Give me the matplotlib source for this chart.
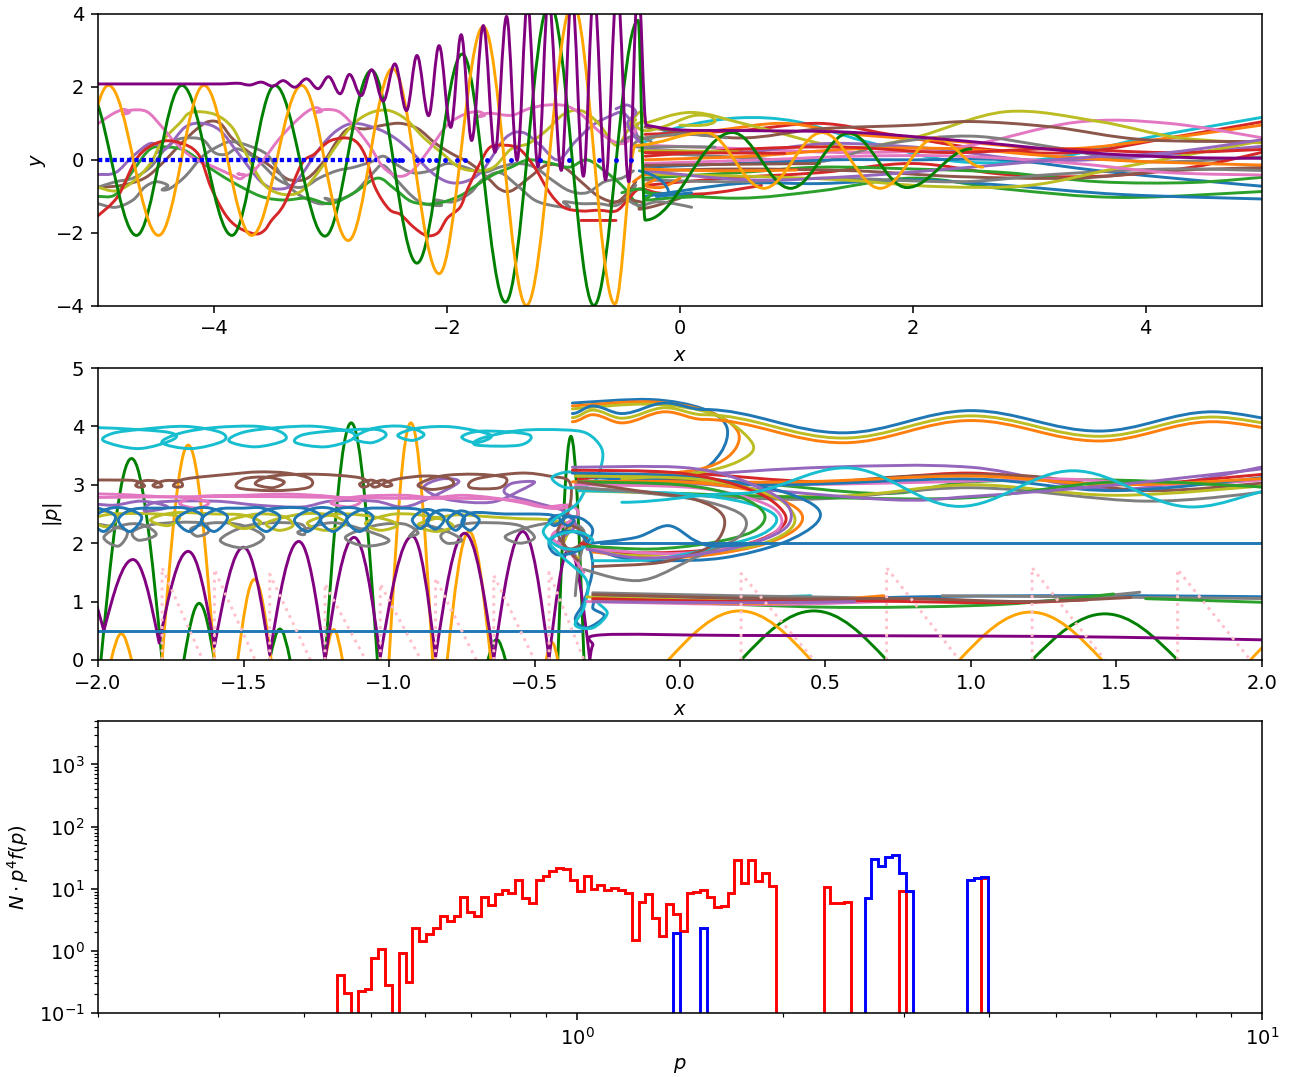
import numpy as np
import matplotlib
matplotlib.use("Agg")
import matplotlib.pyplot as plt
from matplotlib.path import Path
from matplotlib.patches import PathPatch

C0, C1, C2, C3, C4 = '#1f77b4', '#ff7f0e', '#2ca02c', '#d62728', '#9467bd'
C5, C6, C7, C8, C9 = '#8c564b', '#e377c2', '#7f7f7f', '#bcbd22', '#17becf'

# ---------------- top panel: trajectories (x, y) ----------------
purple_top_x = [-5.3, -3.95, -3.8, -3.7, -3.6, -3.5, -3.41, -3.31, -3.21, -3.11, -3.02, -2.92, -2.84,
                -2.74, -2.65, -2.55, -2.45, -2.35, -2.26, -2.16, -2.07, -1.97, -1.88, -1.79, -1.69,
                -1.59, -1.49, -1.40, -1.31, -1.22, -1.13, -1.02, -0.93, -0.83, -0.74, -0.64, -0.54,
                -0.44, -0.36, -0.29]
purple_top_y = [2.08, 2.08, 2.1, 2.05, 2.13, 2.02, 2.17, 1.99, 2.22, 1.95, 2.28, 1.81, 2.34,
                1.76, 2.47, 1.61, 2.63, 1.35, 2.86, 1.21, 3.13, 0.89, 3.43, 0.53, 3.68,
                0.21, 3.93, -0.02, 4.3, -0.19, 4.5, -0.29, 4.6, -0.45, 4.7, -0.55, 4.8,
                -0.6, 4.9, 0.95]
purple_tail = [(-0.29, 0.95), (0.0, 0.82), (0.6, 0.8), (1.5, 0.75), (2.5, 0.5), (3.5, 0.2), (4.3, 0.07), (5.1, 0.04)]

green_top_x = [-5.1, -4.67, -4.28, -3.85, -3.48, -3.05, -2.65, -2.26, -1.87, -1.50, -1.12, -0.74, -0.36,
               -0.3, 0.45, 0.95, 1.45, 1.95, 2.5]
green_top_y = [2.04, -2.07, 2.04, -2.07, 2.04, -2.09, 2.45, -2.83, 2.9, -3.9, 4.3, -3.99, 3.82,
               -1.65, 0.75, -0.78, 0.73, -0.76, 0.3]

orange_top_x = [-5.3, -4.91, -4.48, -4.09, -3.68, -3.25, -2.85, -2.47, -2.07, -1.69, -1.32, -0.92, -0.56,
                -0.38, 0.22, 0.72, 1.22, 1.72, 2.2, 2.6]
orange_top_y = [-2.07, 2.04, -2.07, 2.04, -2.07, 2.04, -2.21, 2.5, -3.12, 3.65, -3.99, 4.3, -3.95,
                0.4, 0.75, -0.78, 0.75, -0.78, 0.6, -0.2]

red_top = [(-5.0, -1.53), (-4.83, -1.0), (-4.66, 0.07), (-4.48, 0.48), (-4.31, 0.48), (-4.14, 0.16),
           (-4.03, -0.75), (-3.91, -1.48), (-3.8, -1.84), (-3.65, -2.03), (-3.57, -1.93), (-3.51, -1.66),
           (-3.4, -1.21), (-3.25, -0.11), (-3.14, 0.16), (-3.0, 0.53), (-2.82, 0.57), (-2.71, 0.16),
           (-2.62, -0.75), (-2.5, -1.35), (-2.4, -1.5), (-2.29, -1.84), (-2.18, -2.07), (-2.08, -2.0),
           (-2.0, -1.6), (-1.89, -1.3), (-1.83, -0.84), (-1.72, -0.1), (-1.63, 0.35), (-1.5, 0.4),
           (-1.38, 0.3), (-1.25, -0.2), (-1.12, -0.9), (-1.0, -1.3), (-0.85, -1.4), (-0.7, -1.38),
           (-0.55, -1.4), (-0.45, -1.1), (-0.35, -0.8), (-0.2, -0.9), (0.0, -0.95), (0.3, -0.9), (0.7, -0.7)]

pink_top = [(-5.0, 0.99), (-4.88, 1.25), (-4.78, 1.38), (-4.73, 1.3), (-4.79, 1.25), (-4.72, 1.36),
            (-4.58, 1.32), (-4.45, 0.9), (-4.33, 0.45), (-4.18, 0.05), (-4.0, -0.2), (-3.85, -0.42),
            (-3.78, -0.52), (-3.74, -0.42), (-3.8, -0.38), (-3.7, -0.4), (-3.58, 0.0), (-3.45, 0.55),
            (-3.32, 1.0), (-3.2, 1.33), (-3.12, 1.43), (-3.08, 1.33), (-3.14, 1.3), (-3.04, 1.38),
            (-2.92, 1.3), (-2.78, 0.85), (-2.66, 0.35), (-2.55, -0.2), (-2.42, -0.45), (-2.3, -0.3),
            (-2.15, 0.3), (-2.0, 0.95), (-1.85, 1.25), (-1.73, 1.32), (-1.68, 1.22), (-1.74, 1.18),
            (-1.64, 1.28), (-1.45, 1.22), (-1.3, 1.4), (-1.15, 1.5), (-0.98, 1.48), (-0.85, 1.25),
            (-0.72, 0.85), (-0.6, 0.55), (-0.48, 0.45), (-0.4, 0.7), (-0.36, 1.0)]

gray_top_a = [(-5.0, -1.2), (-4.85, -1.3), (-4.7, -1.1), (-4.6, -0.75), (-4.5, -0.6), (-4.4, -0.7),
              (-4.45, -0.82), (-4.38, -0.78), (-4.25, -0.45), (-4.1, 0.1), (-3.95, 0.4), (-3.85, 0.5),
              (-3.7, 0.38), (-3.55, 0.15), (-3.45, -0.3), (-3.35, -0.75), (-3.25, -1.0), (-3.1, -1.2),
              (-3.0, -1.15), (-3.05, -1.05), (-2.95, -1.1), (-2.8, -0.9), (-2.65, -0.4), (-2.55, -0.15),
              (-2.42, -0.6), (-2.3, -1.0), (-2.2, -1.2), (-2.05, -1.25), (-2.1, -1.1), (-1.95, -1.15),
              (-1.8, -0.9), (-1.7, -0.55), (-1.55, -0.35), (-1.4, -0.7), (-1.25, -1.1), (-1.1, -1.25),
              (-0.95, -1.3), (-1.0, -1.15), (-0.85, -1.2), (-0.7, -1.2), (-0.55, -1.25), (-0.45, -1.0),
              (-0.38, -0.7)]
gray_top_b = [(-5.0, -0.75), (-4.85, -0.6), (-4.7, -0.5), (-4.55, -0.2), (-4.45, 0.2), (-4.35, 0.5),
              (-4.25, 0.6), (-4.1, 0.55), (-4.0, 0.2), (-3.9, 0.15), (-3.8, 0.3), (-3.65, 0.05),
              (-3.55, -0.25), (-3.45, -0.55), (-3.3, -0.75), (-3.2, -0.7), (-3.1, -0.5), (-2.95, -0.3),
              (-2.8, -0.2), (-2.65, -0.05), (-2.55, 0.1), (-2.45, -0.1), (-2.3, -0.35), (-2.15, -0.3),
              (-2.0, -0.1), (-1.85, -0.2), (-1.7, -0.35), (-1.55, -0.2), (-1.4, -0.1), (-1.25, -0.2),
              (-1.1, -0.55), (-0.95, -0.85), (-0.8, -0.9), (-0.65, -0.6), (-0.5, -0.5), (-0.4, -0.3)]
brown_top = [(-5.0, -0.75), (-4.8, -0.7), (-4.6, -0.5), (-4.45, -0.1), (-4.3, 0.4), (-4.15, 0.85),
             (-4.05, 1.05), (-3.95, 1.0), (-3.85, 0.6), (-3.7, 0.2), (-3.55, -0.1), (-3.45, -0.35),
             (-3.35, -0.55), (-3.2, -0.5), (-3.05, 0.0), (-2.95, 0.5), (-2.85, 0.85), (-2.7, 0.85),
             (-2.55, 0.95), (-2.4, 1.0), (-2.25, 0.85), (-2.1, 0.45), (-1.95, 0.15), (-1.8, -0.1),
             (-1.65, -0.5), (-1.55, -0.8), (-1.45, -0.85), (-1.3, -0.5), (-1.15, -0.15), (-1.0, -0.2),
             (-0.85, -0.6), (-0.7, -1.0), (-0.55, -1.15), (-0.45, -0.9), (-0.38, -0.6)]
olive_top = [(-5.0, -0.75), (-4.85, -0.85), (-4.7, -0.6), (-4.55, -0.1), (-4.45, 0.5), (-4.3, 1.0),
             (-4.2, 1.3), (-4.0, 1.25), (-3.85, 0.9), (-3.75, 0.3), (-3.65, -0.3), (-3.55, -0.75),
             (-3.4, -0.95), (-3.25, -0.85), (-3.1, -0.3), (-2.95, 0.4), (-2.8, 1.0), (-2.65, 1.3),
             (-2.5, 1.35), (-2.35, 1.1), (-2.2, 0.6), (-2.05, 0.2), (-1.9, -0.2), (-1.75, -0.3),
             (-1.6, -0.2), (-1.45, 0.3), (-1.3, 0.45), (-1.15, 0.8), (-1.0, 1.25), (-0.85, 1.35),
             (-0.7, 1.0), (-0.55, 0.4), (-0.45, 0.8), (-0.38, 1.1)]
purple4_top = [(-5.0, -0.4), (-4.85, -0.35), (-4.7, 0.1), (-4.55, 0.45), (-4.45, 0.3), (-4.5, 0.2),
               (-4.4, 0.35), (-4.25, 0.9), (-4.1, 1.0), (-3.95, 0.8), (-3.8, 0.2), (-3.6, -0.6),
               (-3.45, -0.8), (-3.3, -0.6), (-3.1, 0.3), (-2.95, 0.8), (-2.8, 1.0), (-2.6, 0.85),
               (-2.45, 0.6), (-2.3, 0.2), (-2.15, -0.3), (-2.0, -0.6), (-1.85, -0.6), (-1.7, -0.3),
               (-1.5, 0.6), (-1.35, 0.75), (-1.2, 0.4), (-1.05, 0.0), (-0.9, 0.5), (-0.75, 0.95),
               (-0.6, 1.2), (-0.5, 1.3), (-0.42, 1.05), (-0.36, 0.6)]
green4_top = [(-5.0, -1.0), (-4.85, -0.95), (-4.7, -0.3), (-4.55, 0.3), (-4.4, 0.35), (-4.25, 0.25),
              (-4.05, -0.2), (-3.85, -0.6), (-3.6, -1.0), (-3.4, -1.1), (-3.2, -1.05), (-3.0, -1.2),
              (-2.8, -0.9), (-2.6, -0.5), (-2.45, -0.8), (-2.3, -1.15), (-2.1, -1.2), (-1.9, -1.0),
              (-1.75, -0.7), (-1.6, -0.4), (-1.45, -0.2), (-1.3, 0.0), (-1.1, -0.1), (-0.95, -0.2),
              (-0.8, 0.0), (-0.65, -0.3), (-0.5, -0.7), (-0.4, -1.1), (-0.35, -1.3)]
blue_dot_x = [-2.51, -2.45, -2.41, -2.39, -2.26, -2.22, -2.16, -2.1, -2.02, -1.92, -1.85, -1.66,
              -1.45, -1.2, -0.95, -0.7, -0.55, -0.42]

# curly tangle just behind the shock
shock_curls = [
    (C8, [(-0.45, 0.9), (-0.35, 1.3), (-0.3, 1.1), (-0.38, 0.95), (-0.3, 0.8), (-0.15, 0.9), (0.1, 1.2),
          (0.25, 1.2), (0.3, 1.05), (0.2, 0.95), (0.0, 0.95)]),
    (C7, [(-0.5, 0.5), (-0.4, 0.65), (-0.25, 0.5), (-0.3, 0.35), (-0.4, 0.4), (-0.3, 0.6), (0.0, 0.7),
          (0.3, 0.65), (0.4, 0.6)]),
    (C4, [(-0.55, 1.4), (-0.45, 1.5), (-0.38, 1.3), (-0.45, 1.0), (-0.38, 0.6), (-0.3, 0.4)]),
    (C1, [(-0.4, -0.6), (-0.3, -0.4), (-0.2, -0.5), (-0.3, -0.7), (-0.15, -0.75), (0.0, -0.5)]),
    (C5, [(-0.6, -1.2), (-0.45, -1.1), (-0.3, -1.2), (-0.35, -1.35), (-0.2, -1.25), (0.0, -1.05)]),
    (C2, [(-0.5, -0.9), (-0.35, -0.8), (-0.25, -0.95), (-0.3, -1.1), (-0.1, -1.05), (0.2, -1.0)]),
    (C3, [(-0.85, -1.66), (-0.7, -1.66), (-0.55, -1.66)]),
    (C0, [(-0.35, -0.3), (-0.25, -0.4), (-0.15, -0.6), (-0.1, -0.9), (-0.2, -1.0), (0.1, -0.9)]),
    (C7, [(-0.45, -1.1), (-0.35, -1.25), (-0.2, -1.15), (-0.05, -1.2), (0.1, -1.3)]),
]

# post-shock lines on the right of the top panel
right_lines = [
    (C9, [(-0.3, 0.5), (0.0, 0.9), (0.5, 1.15), (1.0, 1.05), (1.6, 0.5), (2.4, -0.05), (3.2, 0.05), (4.0, 0.6), (5.1, 1.22)]),
    (C3, [(-0.3, 0.7), (0.5, 0.8), (1.2, 1.0), (1.8, 0.7), (2.6, 0.3), (3.4, 0.2), (4.2, 0.6), (5.1, 1.1)]),
    (C1, [(-0.3, 0.6), (0.3, 0.8), (0.9, 1.0), (1.5, 0.7), (2.4, 0.5), (3.3, 0.3), (4.2, 0.6), (5.1, 1.0)]),
    (C6, [(-0.3, 0.4), (0.6, 0.3), (1.5, 0.2), (2.4, 0.35), (3.4, 1.03), (4.2, 1.0), (5.1, 0.55)]),
    (C8, [(-0.3, 1.0), (0.1, 1.3), (0.6, 0.95), (1.4, 0.35), (2.0, 0.6), (2.8, 1.32), (3.6, 1.05), (4.3, 0.6), (5.1, 0.45)]),
    (C5, [(-0.3, 0.9), (0.5, 0.6), (1.2, 0.85), (2.0, 0.95), (2.5, 1.05), (3.2, 0.9), (4.0, 0.55), (5.1, 0.5)]),
    (C4, [(-0.3, 0.3), (0.5, 0.2), (1.3, 0.45), (2.2, 0.3), (3.0, 0.0), (3.8, 0.05), (5.1, 0.4)]),
    (C7, [(-0.3, 0.2), (0.6, 0.05), (1.2, -0.05), (1.8, 0.45), (2.5, 0.65), (3.2, 0.35), (4.0, -0.05), (5.1, 0.1)]),
    (C0, [(-0.3, -0.2), (0.5, -0.1), (1.3, 0.0), (2.0, 0.0), (2.8, 0.0), (3.6, -0.3), (4.4, -0.55), (5.1, -0.75)]),
    (C3, [(-0.3, -0.7), (0.4, -0.5), (1.2, -0.35), (2.0, -0.1), (2.8, -0.4), (3.6, -0.45), (4.4, -0.2), (5.1, 0.28)]),
    (C2, [(-0.3, -0.5), (0.5, -0.35), (1.2, -0.2), (2.0, -0.25), (2.8, -0.35), (3.6, -0.6), (4.4, -0.62), (5.1, -0.45)]),
    (C2, [(-0.3, -0.9), (0.5, -1.05), (1.2, -0.85), (2.0, -0.5), (2.8, -0.8), (3.8, -1.03), (5.1, -0.85)]),
    (C0, [(-0.3, -1.0), (0.5, -0.65), (1.2, -0.65), (2.0, -0.55), (2.8, -0.7), (3.8, -0.95), (5.1, -1.08)]),
    (C5, [(-0.3, -0.3), (0.5, -0.25), (1.5, -0.3), (2.4, -0.46), (3.4, -0.5), (4.2, -0.3), (5.1, -0.2)]),
    (C7, [(-0.3, -0.55), (0.5, -0.6), (1.3, -0.5), (2.4, -0.6), (3.2, -0.4), (4.2, -0.25), (5.1, -0.3)]),
    (C8, [(-0.3, -0.4), (0.6, -0.45), (1.4, -0.55), (2.2, -0.73), (3.0, -0.7), (3.8, -0.2), (5.1, 0.58)]),
    (C1, [(-0.3, 0.0), (0.6, 0.1), (1.5, 0.3), (2.4, 0.3), (3.2, 0.1), (4.0, -0.05), (5.1, -0.15)]),
    (C6, [(-0.3, -0.1), (0.7, 0.0), (1.5, 0.1), (2.4, 0.1), (3.4, -0.1), (4.2, -0.35), (5.1, -0.42)]),
    (C3, [(-0.3, 0.1), (0.6, 0.3), (1.4, 0.35), (2.3, 0.2), (3.2, 0.3), (4.2, 0.2), (5.1, 0.3)]),
    (C4, [(-0.3, -0.3), (0.6, -0.55), (1.5, -0.45), (2.5, -0.2), (3.4, 0.05), (4.2, 0.2), (5.1, 0.6)]),
    (C8, [(-0.35, 0.25), (0.1, 0.24), (0.5, 0.22)]),
    (C3, [(-0.3, 0.2), (0.4, 0.19), (0.9, 0.18)]),
    (C5, [(-0.3, -0.15), (0.5, -0.12), (1.2, -0.1)]),
    (C7, [(-0.3, 0.35), (0.0, 0.36), (0.3, 0.35)]),
    (C1, [(-0.3, -0.25), (0.3, -0.3), (1.0, -0.28)]),
]

# ---------------- middle panel: |p| against x ----------------
purple_mid_x = [-2.17, -2.075, -1.98, -1.88, -1.79, -1.69, -1.60, -1.50, -1.41, -1.31, -1.22, -1.12, -1.03,
                -0.92, -0.84, -0.74, -0.64, -0.54, -0.45, -0.38, -0.31]
purple_mid_y = [0.5, 1.6, 0.5, 1.72, 0.29, 1.86, 0.23, 1.93, 0.09, 2.03, 0.0, 2.10, 0.05,
                2.12, 0.05, 2.17, 0.02, 2.2, 0.02, 1.9, 0.0]
purple_mid_tail = [(-0.31, 0.0), (-0.3, 0.25), (-0.27, 0.43), (0.2, 0.42), (1.0, 0.41), (1.5, 0.39), (2.05, 0.34)]

green_arch_left = [-1.99, -1.705, -1.41, -1.22, -0.66, -0.42, 0.21, 1.21]
green_arch_right = [-1.78, -1.60, -1.34, -1.04, -0.60, -0.33, 0.71, 1.71]
green_arch_peak = [3.45, 0.97, 0.53, 4.06, 0.35, 3.83, 0.84, 0.79]

orange_arch_left = [-1.955, -1.78, -1.52, -1.22, -1.0, -0.80, -0.46, -0.04, 0.96, 1.96]
orange_arch_right = [-1.885, -1.60, -1.405, -1.16, -0.85, -0.65, -0.42, 0.45, 1.45, 2.45]
orange_arch_peak = [0.45, 3.68, 1.38, 0.52, 4.06, 2.2, 0.3, 0.84, 0.82, 0.82]

pink_saw_start = [-1.78, -1.60, -1.41, -1.22, -1.03, -0.84, -0.64, -0.45, 0.21, 0.71, 1.21, 1.71]
pink_saw_top = [1.58, 1.55, 1.47, 1.3, 1.3, 1.4, 1.45, 1.5, 1.48, 1.58, 1.58, 1.55]
pink_saw_width = [0.14, 0.14, 0.14, 0.14, 0.14, 0.14, 0.14, 0.12, 0.25, 0.25, 0.25, 0.25]

blue_low_x = [-2.0, -0.34]
blue_low_y = [0.5, 0.5]
blue_two_x = [-0.27, 2.0]
blue_two_y = [2.0, 2.0]

cyan_mid = [(-2.05, 3.98), (-1.95, 3.97), (-1.76, 3.9), (-1.74, 3.78), (-1.86, 3.62), (-1.98, 3.75),
            (-1.95, 3.88), (-1.85, 3.95), (-1.7, 4.0), (-1.58, 3.9), (-1.57, 3.75), (-1.68, 3.62),
            (-1.78, 3.72), (-1.72, 3.88), (-1.6, 3.98), (-1.45, 4.0), (-1.37, 3.9), (-1.36, 3.76),
            (-1.46, 3.65), (-1.55, 3.75), (-1.5, 3.9), (-1.38, 3.98), (-1.25, 4.0), (-1.13, 3.9),
            (-1.13, 3.77), (-1.22, 3.65), (-1.32, 3.72), (-1.3, 3.85), (-1.2, 3.92), (-1.05, 3.95),
            (-1.01, 3.85), (-1.06, 3.72), (-1.12, 3.8), (-1.05, 3.97), (-0.95, 4.0), (-0.88, 3.87),
            (-0.92, 3.76), (-0.97, 3.85), (-0.9, 3.97), (-0.78, 3.99), (-0.65, 3.85), (-0.7, 3.72),
            (-0.75, 3.82), (-0.68, 3.92), (-0.52, 3.86), (-0.55, 3.68), (-0.7, 3.68), (-0.68, 3.8),
            (-0.55, 3.93), (-0.4, 3.94), (-0.32, 3.88), (-0.27, 3.63), (-0.27, 3.34), (-0.3, 3.03),
            (-0.39, 2.95), (-0.44, 3.12), (-0.38, 3.22), (-0.32, 3.1), (-0.35, 2.7), (-0.42, 2.45),
            (-0.47, 2.2), (-0.42, 1.95), (-0.35, 1.9), (-0.3, 2.05), (-0.36, 2.2), (-0.45, 2.05),
            (-0.4, 1.75), (-0.32, 1.35), (-0.33, 0.9), (-0.36, 0.6), (-0.3, 0.55), (-0.25, 0.8),
            (-0.28, 1.05), (-0.1, 1.1), (0.2, 1.07), (0.45, 1.1)]
brown_mid = [(-2.05, 3.08), (-1.9, 3.08), (-1.86, 3.05), (-1.84, 2.98), (-1.86, 2.96), (-1.87, 3.0),
             (-1.84, 3.07), (-1.8, 3.06), (-1.78, 2.98), (-1.8, 2.96), (-1.81, 3.0), (-1.77, 3.07),
             (-1.72, 3.06), (-1.71, 2.98), (-1.73, 2.96), (-1.74, 3.0), (-1.7, 3.1), (-1.55, 3.18),
             (-1.45, 3.22), (-1.35, 3.2), (-1.27, 3.1), (-1.28, 2.95), (-1.4, 2.9), (-1.52, 2.95),
             (-1.5, 3.1), (-1.42, 3.13), (-1.36, 3.05), (-1.4, 2.95), (-1.46, 3.02), (-1.4, 3.15),
             (-1.25, 3.18), (-1.1, 3.12), (-1.07, 3.0), (-1.09, 2.96), (-1.1, 3.02), (-1.06, 3.08),
             (-1.03, 3.0), (-1.05, 2.96), (-1.06, 3.01), (-1.02, 3.08), (-0.99, 3.0), (-1.01, 2.97),
             (-1.02, 3.02), (-0.97, 3.1), (-0.88, 3.15), (-0.8, 3.12), (-0.78, 3.0), (-0.85, 2.92),
             (-0.9, 3.0), (-0.82, 3.15), (-0.7, 3.18), (-0.6, 3.12), (-0.62, 2.95), (-0.72, 2.95),
             (-0.7, 3.1), (-0.55, 3.2), (-0.45, 3.15), (-0.38, 3.05), (-0.38, 2.6), (-0.42, 2.2),
             (-0.38, 1.9), (-0.32, 2.1), (-0.38, 2.3), (-0.4, 2.0), (-0.35, 1.7)]
pink_mid = [(-2.05, 2.85), (-1.9, 2.83), (-1.8, 2.8), (-1.7, 2.78), (-1.62, 2.7), (-1.66, 2.6),
            (-1.72, 2.68), (-1.65, 2.8), (-1.5, 2.82), (-1.35, 2.84), (-1.2, 2.8), (-1.1, 2.72),
            (-1.14, 2.62), (-1.2, 2.7), (-1.1, 2.8), (-0.95, 2.82), (-0.85, 2.78), (-0.75, 2.82),
            (-0.65, 2.78), (-0.55, 2.7), (-0.47, 2.62), (-0.38, 2.65), (-0.35, 2.5), (-0.4, 2.3),
            (-0.44, 2.1), (-0.38, 1.85), (-0.33, 1.5)]
pink_mid_b = [(-2.05, 2.78), (-1.5, 2.8), (-1.0, 2.77), (-0.6, 2.75), (-0.45, 2.6), (-0.38, 2.62)]
purple4_mid = [(-2.05, 2.7), (-1.95, 2.65), (-1.85, 2.72), (-1.76, 2.62), (-1.84, 2.55), (-1.8, 2.7),
               (-1.6, 2.72), (-1.45, 2.65), (-1.3, 2.62), (-1.2, 2.72), (-1.05, 2.72), (-0.95, 2.62),
               (-0.85, 2.8), (-0.76, 3.05), (-0.82, 3.1), (-0.88, 2.95), (-0.8, 2.75), (-0.65, 2.7),
               (-0.55, 2.9), (-0.5, 3.05), (-0.58, 3.02), (-0.6, 2.85), (-0.5, 2.7), (-0.4, 2.55),
               (-0.36, 2.3), (-0.42, 2.0), (-0.36, 1.8)]
olive_mid = [(-2.05, 2.45), (-1.99, 2.55), (-1.93, 2.45), (-1.97, 2.28), (-2.02, 2.4), (-1.95, 2.5),
             (-1.8, 2.5), (-1.72, 2.45), (-1.76, 2.3), (-1.82, 2.4), (-1.74, 2.52), (-1.6, 2.5),
             (-1.5, 2.48), (-1.44, 2.35), (-1.5, 2.25), (-1.55, 2.38), (-1.45, 2.5), (-1.36, 2.45),
             (-1.33, 2.3), (-1.38, 2.22), (-1.42, 2.35), (-1.3, 2.5), (-1.2, 2.48), (-1.15, 2.33),
             (-1.22, 2.22), (-1.28, 2.35), (-1.18, 2.5), (-1.05, 2.45), (-0.97, 2.32), (-1.03, 2.22),
             (-1.08, 2.35), (-0.98, 2.5), (-0.85, 2.45), (-0.78, 2.3), (-0.84, 2.2), (-0.9, 2.32),
             (-0.78, 2.48), (-0.65, 2.45), (-0.55, 2.42), (-0.45, 2.4), (-0.38, 2.3), (-0.4, 1.95),
             (-0.35, 1.75)]
gray_mid = [(-2.05, 2.35), (-1.97, 2.3), (-1.9, 2.2), (-1.93, 1.95), (-1.98, 2.1), (-1.92, 2.3),
            (-1.85, 2.32), (-1.8, 2.15), (-1.86, 2.05), (-1.88, 2.2), (-1.8, 2.33), (-1.65, 2.35),
            (-1.62, 2.2), (-1.66, 2.12), (-1.68, 2.25), (-1.6, 2.35), (-1.5, 2.3), (-1.43, 2.1),
            (-1.5, 1.92), (-1.58, 2.05), (-1.5, 2.28), (-1.4, 2.35), (-1.3, 2.32), (-1.29, 2.15),
            (-1.31, 2.2), (-1.2, 2.35), (-1.1, 2.25), (-1.0, 2.05), (-1.08, 1.95), (-1.15, 2.1),
            (-1.05, 2.3), (-0.95, 2.33), (-0.9, 2.18), (-0.93, 2.12), (-0.88, 2.3), (-0.8, 2.2),
            (-0.75, 2.05), (-0.8, 2.0), (-0.82, 2.15), (-0.75, 2.32), (-0.65, 2.35), (-0.55, 2.3),
            (-0.5, 2.1), (-0.55, 2.0), (-0.6, 2.12), (-0.5, 2.3), (-0.4, 2.35), (-0.33, 2.2),
            (-0.35, 1.6), (-0.36, 1.1)]
blue_mid = [(-2.05, 2.58), (-2.0, 2.6), (-1.94, 2.45), (-1.98, 2.2), (-2.02, 2.4), (-1.97, 2.58),
            (-1.91, 2.6), (-1.85, 2.45), (-1.89, 2.2), (-1.93, 2.4), (-1.88, 2.58), (-1.78, 2.6),
            (-1.70, 2.6), (-1.64, 2.45), (-1.685, 2.2), (-1.73, 2.4), (-1.675, 2.58), (-1.615, 2.6),
            (-1.555, 2.45), (-1.60, 2.2), (-1.645, 2.4), (-1.59, 2.58), (-1.5, 2.6), (-1.435, 2.6),
            (-1.375, 2.45), (-1.42, 2.2), (-1.465, 2.4), (-1.41, 2.58), (-1.295, 2.6), (-1.235, 2.45),
            (-1.28, 2.2), (-1.325, 2.4), (-1.27, 2.58), (-1.205, 2.6), (-1.145, 2.45), (-1.19, 2.2),
            (-1.235, 2.4), (-1.18, 2.58), (-1.115, 2.6), (-1.055, 2.45), (-1.10, 2.2), (-1.145, 2.4),
            (-1.09, 2.58), (-1.0, 2.6), (-0.9, 2.58), (-0.86, 2.45), (-0.89, 2.25), (-0.92, 2.4),
            (-0.885, 2.56), (-0.85, 2.56), (-0.81, 2.42), (-0.84, 2.24), (-0.87, 2.38), (-0.835, 2.55),
            (-0.78, 2.55), (-0.74, 2.42), (-0.77, 2.22), (-0.80, 2.38), (-0.765, 2.54), (-0.73, 2.53),
            (-0.69, 2.4), (-0.72, 2.22), (-0.75, 2.36), (-0.715, 2.52), (-0.6, 2.5), (-0.5, 2.5),
            (-0.44, 2.48), (-0.41, 2.4), (-0.43, 2.3), (-0.45, 2.38), (-0.425, 2.47), (-0.395, 2.47),
            (-0.365, 2.4), (-0.385, 2.3), (-0.405, 2.38), (-0.38, 2.46), (-0.33, 2.4), (-0.3, 2.2),
            (-0.34, 1.9), (-0.42, 1.8), (-0.45, 2.0), (-0.4, 2.2), (-0.33, 2.1), (-0.3, 1.6),
            (-0.33, 1.0), (-0.36, 0.7), (-0.32, 0.55), (-0.26, 0.75), (-0.3, 0.9), (-0.25, 1.1),
            (0.0, 1.08), (0.4, 1.03), (0.8, 1.08), (1.2, 1.1), (1.6, 1.1), (2.05, 1.08)]

trio_x = [-0.37, -0.3, -0.2, -0.05, 0.08, 0.56, 1.0, 1.44, 1.83, 2.1]
trio_blue_y = [4.22, 4.35, 4.22, 4.4, 4.29, 3.89, 4.27, 3.92, 4.25, 4.1]
trio_olive_y = [4.15, 4.28, 4.14, 4.32, 4.2, 3.8, 4.18, 3.83, 4.16, 4.02]
trio_orange_y = [4.08, 4.2, 4.06, 4.25, 4.12, 3.72, 4.1, 3.75, 4.08, 3.94]
cyan_wave_x = [-0.2, 0.2, 0.57, 0.96, 1.35, 1.76, 2.1]
cyan_wave_y = [2.7, 2.85, 3.29, 2.63, 3.24, 2.62, 2.95]

uturn_lines = [
    (C0, [(-0.37, 4.4), (-0.1, 4.46), (0.08, 4.3), (0.16, 4.0), (0.14, 3.55), (0.05, 3.2), (-0.15, 3.1), (-0.35, 3.05)]),
    (C1, [(-0.37, 4.35), (-0.1, 4.42), (0.1, 4.25), (0.2, 3.9), (0.17, 3.5), (0.05, 3.25), (-0.2, 3.15)]),
    (C8, [(-0.37, 4.3), (-0.1, 4.38), (0.12, 4.2), (0.25, 3.7), (0.2, 3.4), (0.05, 3.2), (-0.2, 3.1)]),
    (C0, [(-0.37, 3.2), (0.0, 3.15), (0.3, 2.95), (0.46, 2.65), (0.47, 2.35), (0.35, 2.0), (0.15, 1.75), (-0.05, 1.7), (-0.2, 1.75), (-0.32, 1.95)]),
    (C1, [(-0.37, 3.05), (0.0, 3.05), (0.25, 2.9), (0.4, 2.6), (0.41, 2.3), (0.3, 2.0), (0.1, 1.8), (-0.1, 1.75), (-0.3, 1.85)]),
    (C8, [(-0.36, 3.15), (0.05, 3.1), (0.3, 2.85), (0.39, 2.5), (0.37, 2.2), (0.25, 1.95), (0.05, 1.85), (-0.15, 1.8), (-0.32, 1.9)]),
    (C3, [(-0.37, 3.25), (0.0, 3.2), (0.25, 2.9), (0.36, 2.5), (0.33, 2.2), (0.2, 1.95), (0.0, 1.85), (-0.2, 1.85), (-0.34, 2.0)]),
    (C6, [(-0.36, 3.0), (0.05, 2.95), (0.28, 2.7), (0.35, 2.4), (0.3, 2.1), (0.15, 1.9), (-0.05, 1.82), (-0.3, 1.9)]),
    (C9, [(-0.35, 2.9), (0.0, 2.85), (0.22, 2.7), (0.33, 2.45), (0.28, 2.15), (0.1, 1.9), (-0.1, 1.72), (-0.3, 1.7)]),
    (C2, [(-0.35, 3.05), (0.0, 3.0), (0.2, 2.8), (0.29, 2.5), (0.25, 2.2), (0.1, 2.0), (-0.1, 1.9), (-0.32, 1.95)]),
    (C7, [(-0.36, 2.95), (-0.1, 2.85), (0.1, 2.7), (0.22, 2.45), (0.2, 2.1), (0.05, 1.75), (-0.1, 1.4), (-0.2, 1.38), (-0.33, 1.55)]),
    (C5, [(-0.35, 3.05), (-0.15, 2.9), (0.05, 2.75), (0.15, 2.45), (0.12, 2.0), (0.0, 1.75), (-0.1, 1.65), (-0.3, 1.6)]),
    (C4, [(-0.37, 3.3), (0.0, 3.3), (0.2, 3.1), (0.36, 2.7), (0.37, 2.3), (0.25, 2.0), (0.05, 1.8), (-0.15, 1.75), (-0.32, 1.9)]),
    (C0, [(-0.3, 2.0), (-0.15, 2.1), (-0.04, 2.3), (0.05, 2.05), (0.12, 1.95), (0.3, 2.0)]),
]

bundle_lines = [
    (C4, [(-0.35, 3.0), (0.0, 3.15), (0.5, 3.3), (1.0, 3.3), (1.5, 2.92), (2.05, 3.35)]),
    (C3, [(-0.35, 3.1), (0.0, 3.2), (0.5, 3.05), (1.0, 3.2), (1.5, 3.0), (2.05, 3.2)]),
    (C2, [(-0.35, 3.15), (0.2, 3.05), (0.7, 2.85), (1.0, 3.05), (1.5, 3.08), (2.05, 2.95)]),
    (C5, [(-0.35, 3.2), (0.3, 3.0), (0.8, 3.15), (1.2, 3.15), (1.6, 2.9), (2.05, 3.05)]),
    (C6, [(-0.35, 3.05), (0.3, 3.0), (0.9, 3.05), (1.3, 3.1), (1.7, 3.0), (2.05, 3.1)]),
    (C7, [(-0.35, 2.95), (0.4, 2.75), (1.0, 2.95), (1.6, 2.72), (2.05, 2.9)]),
    (C8, [(-0.35, 2.9), (0.5, 2.8), (1.0, 3.0), (1.5, 2.82), (2.05, 3.0)]),
    (C0, [(-0.35, 3.15), (0.3, 3.0), (1.0, 3.1), (1.5, 2.9), (2.05, 3.15)]),
    (C1, [(-0.35, 3.05), (0.4, 3.05), (1.0, 3.15), (1.5, 3.0), (2.05, 3.12)]),
    (C2, [(0.0, 2.85), (0.5, 2.78), (1.0, 2.78), (1.5, 3.05), (2.05, 2.95)]),
    (C4, [(0.0, 3.05), (0.7, 2.75), (1.0, 2.8), (1.5, 3.0), (2.05, 3.3)]),
]

low_lines = [
    (C7, [(-0.3, 1.15), (0.2, 1.1), (0.8, 1.05), (1.2, 1.0), (1.58, 1.16)]),
    (C7, [(0.9, 1.1), (1.4, 1.08), (2.05, 1.05)]),
    (C2, [(-0.3, 1.05), (0.2, 0.95), (0.6, 0.9), (1.1, 0.95), (1.49, 1.13)]),
    (C2, [(1.6, 1.05), (2.05, 0.98)]),
    (C6, [(-0.32, 1.0), (0.3, 0.95), (0.8, 1.02)]),
    (C8, [(-0.32, 1.08), (0.3, 1.0), (0.75, 1.05)]),
    (C1, [(-0.3, 1.02), (0.3, 0.97), (0.7, 1.1)]),
    (C3, [(-0.3, 1.05), (0.2, 1.0), (0.5, 1.02), (1.1, 0.98), (1.4, 1.03)]),
    (C5, [(-0.3, 1.12), (0.3, 1.05), (0.8, 1.05), (1.2, 1.0), (1.55, 1.07)]),
    (C4, [(-0.3, 1.0), (0.2, 0.98), (0.6, 1.0)]),
]

# ---------------- bottom panel: histogram p^4 f(p) ----------------
bin_log_start = -0.36
bin_log_step = 0.01
red_counts = [0,
              0.405, 0.21, 0, 0.23, 0.24, 0.78, 1.08, 0.28, 0, 0.92, 0.32, 2.35, 1.42, 1.84, 2.3, 3.6,
              3.08, 3.6, 7.4, 4.3, 3.6, 7.4, 5.5, 8.2, 9.6, 8.4, 13.9, 7.1, 5.9, 13.7, 16.1, 19.4,
              21.4, 20.5, 13.7, 9.1, 16.1, 9.9, 11.6, 9.6, 10.2, 9.6, 8.7, 1.51, 6.2, 8.2, 3.35, 1.75,
              5.7, 3.94, 2.07, 8.5, 8.9, 9.5, 7.4, 5.15, 5.35, 8.5, 29.1, 12.3, 29.1, 13.4, 17.8, 10.9,
              0, 0, 0, 0, 0, 0, 0,
              10.8, 5.8, 6.0, 6.2,
              0, 0, 0, 0, 0, 0, 0,
              9.1,
              0, 0, 0, 0, 0, 0, 0, 0, 0, 0, 0,
              14.8, 0]
blue_counts = [0] * 50 + [1.96, 0, 0, 0, 2.35] + [0] * 23 + [7.1, 29.8, 23.3, 32.9, 34.6, 17.8, 9.3] \
              + [0] * 8 + [13.9, 14.8, 15.7, 0]


def spline(ax, pts, color, lw=1.5, ls='-'):
    p = np.asarray(pts, dtype=float)
    q = np.vstack([p[0], p, p[-1]])
    verts = [p[0]]
    codes = [Path.MOVETO]
    for i in range(1, len(q) - 2):
        verts += [q[i] + (q[i + 1] - q[i - 1]) / 6, q[i + 1] - (q[i + 2] - q[i]) / 6, q[i + 1]]
        codes += [Path.CURVE4] * 3
    ax.add_patch(PathPatch(Path(verts, codes), fill=False, edgecolor=color, lw=lw, ls=ls,
                           capstyle='round', joinstyle='round'))


def wave(ax, xs, ys, color, lw=1.5):
    # smooth curve with flat tangents at the listed extrema
    verts = [(xs[0], ys[0])]
    codes = [Path.MOVETO]
    for x0, y0, x1, y1 in zip(xs[:-1], ys[:-1], xs[1:], ys[1:]):
        d = 0.36 * (x1 - x0)
        verts += [(x0 + d, y0), (x1 - d, y1), (x1, y1)]
        codes += [Path.CURVE4] * 3
    ax.add_patch(PathPatch(Path(verts, codes), fill=False, edgecolor=color, lw=lw,
                           capstyle='round', joinstyle='round'))


def arches(ax, xs, ys, color, lw=1.5):
    # |sin|-like: cusps at even index points, round tops at odd ones
    verts = [(xs[0], ys[0])]
    codes = [Path.MOVETO]
    for i in range(len(xs) - 1):
        x0, y0, x1, y1 = xs[i], ys[i], xs[i + 1], ys[i + 1]
        dx, dy = x1 - x0, y1 - y0
        if i % 2 == 0:
            verts += [(x0 + 0.326 * dx, y0 + 0.512 * dy), (x0 + 0.638 * dx, y1), (x1, y1)]
        else:
            verts += [(x0 + 0.362 * dx, y0), (x0 + 0.674 * dx, y0 + 0.488 * dy), (x1, y1)]
        codes += [Path.CURVE4] * 3
    ax.add_patch(PathPatch(Path(verts, codes), fill=False, edgecolor=color, lw=lw,
                           capstyle='round', joinstyle='round'))


fig = plt.figure(figsize=(9.25, 7.693), dpi=140)
ax1 = fig.add_axes([0.0757, 0.716, 0.8988, 0.2711])
ax2 = fig.add_axes([0.0757, 0.3872, 0.8988, 0.2711])
ax3 = fig.add_axes([0.0757, 0.0594, 0.8988, 0.2711])

# top panel
ax1.plot([-5.0, -2.6], [0, 0], color='blue', lw=2.2, ls=(0, (1, 0.7)))
ax1.plot(blue_dot_x, [0] * len(blue_dot_x), '.', color='blue', ms=3)
for col, pts in [(C5, brown_top), (C7, gray_top_a), (C7, gray_top_b), (C2, green4_top),
                 (C4, purple4_top), (C8, olive_top), (C6, pink_top), (C3, red_top)]:
    spline(ax1, pts, col)
for col, pts in right_lines + shock_curls:
    spline(ax1, pts, col)
wave(ax1, green_top_x, green_top_y, 'green')
wave(ax1, orange_top_x, orange_top_y, 'orange')
wave(ax1, purple_top_x, purple_top_y, 'purple')
spline(ax1, purple_tail, 'purple')
ax1.set_xlim(-5, 5)
ax1.set_ylim(-4, 4)
ax1.set_yticks([-4, -2, 0, 2, 4])
ax1.set_xlabel('$x$')
ax1.set_ylabel('$y$')

# middle panel
ax2.plot(blue_low_x, blue_low_y, color=C0, lw=1.5)
ax2.plot(blue_two_x, blue_two_y, color=C0, lw=1.5)
for v, h, w in zip(pink_saw_start, pink_saw_top, pink_saw_width):
    ax2.plot([v, v, v + w], [0, h, 0], ':', color='pink', lw=1.5)
for x0, x1, h in zip(green_arch_left, green_arch_right, green_arch_peak):
    arches(ax2, [x0, (x0 + x1) / 2, x1], [0, h, 0], 'green')
for x0, x1, h in zip(orange_arch_left, orange_arch_right, orange_arch_peak):
    arches(ax2, [x0, (x0 + x1) / 2, x1], [0, h, 0], 'orange')
arches(ax2, purple_mid_x, purple_mid_y, 'purple')
spline(ax2, purple_mid_tail, 'purple')
for col, pts in [(C7, gray_mid), (C8, olive_mid), (C4, purple4_mid), (C6, pink_mid_b),
                 (C6, pink_mid), (C5, brown_mid), (C0, blue_mid), (C9, cyan_mid)]:
    spline(ax2, pts, col)
for col, pts in low_lines + bundle_lines + uturn_lines:
    spline(ax2, pts, col)
wave(ax2, cyan_wave_x, cyan_wave_y, C9)
wave(ax2, trio_x, trio_orange_y, C1)
wave(ax2, trio_x, trio_olive_y, C8)
wave(ax2, trio_x, trio_blue_y, C0)
ax2.set_xlim(-2, 2)
ax2.set_ylim(0, 5)
ax2.set_xlabel('$x$')
ax2.set_ylabel('$|p|$')

# bottom panel
edges = 10 ** (bin_log_start + bin_log_step * np.arange(len(red_counts) + 1))
ax3.set_xscale('log')
ax3.set_yscale('log')
ax3.stairs(red_counts, edges, color='red', lw=1.5)
ax3.stairs(blue_counts, edges, color='blue', lw=1.5)
ax3.set_xlim(0.2, 10)
ax3.set_ylim(0.1, 5000)
ax3.set_xlabel('$p$')
ax3.set_ylabel(r'$N \cdot p^4 f(p)$')

fig.savefig('out.png', dpi=140)
